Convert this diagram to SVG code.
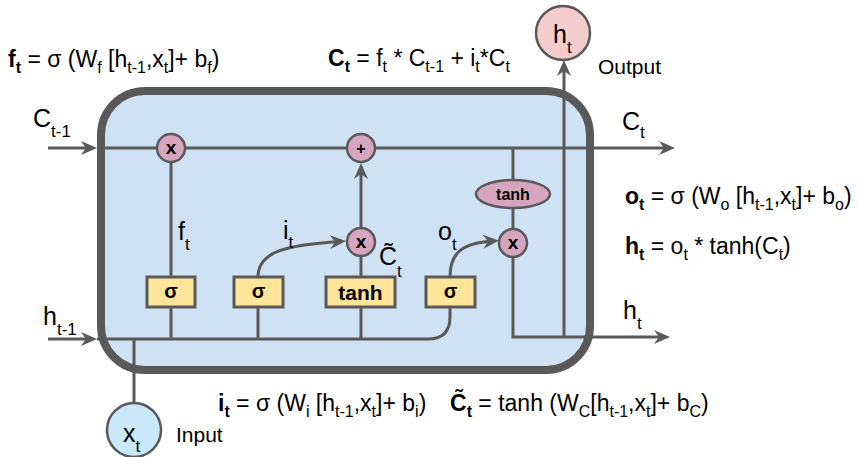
<svg xmlns="http://www.w3.org/2000/svg" width="858" height="457" viewBox="0 0 858 457">
<style>
text{font-family:"Liberation Sans",Arial,sans-serif;fill:#000}
.eq{font-size:23px}
.lb{font-size:25px}
.b{font-weight:bold}
.g{font-weight:bold;text-anchor:middle}
.ln{fill:none;stroke:#595959;stroke-width:3}
.op{fill:#d5a6bd;stroke:#595959;stroke-width:2.5}
.gate{fill:#ffe599;stroke:#595959;stroke-width:3}
</style>
<defs>
<marker id="arr" viewBox="-12 -9 20 18" refX="0" refY="0" markerWidth="20" markerHeight="18" orient="auto" markerUnits="userSpaceOnUse">
<path d="M6,0 L-10,-7 L-5,0 L-10,7 Z" fill="#595959"/>
</marker>
</defs>
<g id="cell">
<rect x="101" y="91" width="489" height="279" rx="44" ry="44" fill="#cfe2f3" stroke="#595959" stroke-width="8"/>
</g>
<g id="connectors">
<path class="ln" d="M48,148 H91" marker-end="url(#arr)"/>
<path class="ln" d="M97,148 H669" marker-end="url(#arr)"/>
<path class="ln" d="M48,339 H91" marker-end="url(#arr)"/>
<path class="ln" d="M97,339 H428 Q450,339 450,317 V307"/>
<path class="ln" d="M134,339 V403"/>
<path class="ln" d="M171,162 V277"/>
<path class="ln" d="M171,307 V339"/>
<path class="ln" d="M258,307 V339"/>
<path class="ln" d="M361,307 V339"/>
<path class="ln" d="M361,277 V256"/>
<path class="ln" d="M361,228 V169" marker-end="url(#arr)"/>
<path class="ln" d="M258,277 C258,252 285,245 340,241.5" marker-end="url(#arr)"/>
<path class="ln" d="M450,277 C450,252 463,243 493,241" marker-end="url(#arr)"/>
<path class="ln" d="M513,148 V180"/>
<path class="ln" d="M513,208 V229"/>
<path class="ln" d="M513,257 V337 H664" marker-end="url(#arr)"/>
<path class="ln" d="M564,337 V66" marker-end="url(#arr)"/>
</g>
<g id="forget-mul"><circle class="op" cx="171" cy="148" r="14"/><text class="g" x="171" y="154" font-size="19">x</text></g>
<g id="add"><circle class="op" cx="361" cy="148" r="14"/><text class="g" x="361" y="154" font-size="16">+</text></g>
<g id="input-mul"><circle class="op" cx="361" cy="242" r="14"/><text class="g" x="361" y="248" font-size="19">x</text></g>
<g id="output-mul"><circle class="op" cx="513" cy="243" r="14"/><text class="g" x="513" y="249" font-size="19">x</text></g>
<g id="tanh-cell"><ellipse class="op" cx="513" cy="194" rx="37" ry="14"/><text class="g" x="513" y="200" font-size="16">tanh</text></g>
<g id="forget-gate"><rect class="gate" x="147" y="277" width="48" height="30"/><text class="g" x="171" y="298" font-size="20">σ</text></g>
<g id="input-gate"><rect class="gate" x="234" y="277" width="49" height="30"/><text class="g" x="258.5" y="298" font-size="20">σ</text></g>
<g id="candidate-gate"><rect class="gate" x="326" y="277" width="69" height="30"/><text class="g" x="360.5" y="300" font-size="21">tanh</text></g>
<g id="output-gate"><rect class="gate" x="426" y="277" width="49" height="30"/><text class="g" x="450.5" y="298" font-size="20">σ</text></g>
<g id="output-node"><circle cx="563" cy="33" r="27" fill="#f4cccc" stroke="#595959" stroke-width="2.5"/><text class="lb" x="553" y="43">h<tspan font-size="17" dy="10">t</tspan></text></g>
<g id="input-node"><circle cx="134" cy="430" r="27" fill="#c9e8f8" stroke="#595959" stroke-width="2.5"/><text class="lb" x="123" y="442">x<tspan font-size="17" dy="10">t</tspan></text></g>
<g id="labels">
<text class="lb" x="33" y="127">C<tspan font-size="17" dy="10">t-1</tspan></text>
<text class="lb" x="43" y="325">h<tspan font-size="17" dy="10">t-1</tspan></text>
<text class="lb" x="622" y="130">C<tspan font-size="17" dy="8">t</tspan></text>
<text class="lb" x="623" y="319">h<tspan font-size="17" dy="10">t</tspan></text>
<text class="lb" x="178" y="240">f<tspan font-size="17" dy="10">t</tspan></text>
<text class="lb" x="283" y="239">i<tspan font-size="17" dy="9">t</tspan></text>
<text class="lb" x="438" y="240">o<tspan font-size="17" dy="10">t</tspan></text>
<text class="lb" x="379" y="265">C&#771;<tspan font-size="17" dy="12">t</tspan></text>
<text x="598" y="74" font-size="21">Output</text>
<text x="176" y="442" font-size="21">Input</text>
</g>
<g id="equations">
<text class="eq" x="8" y="67"><tspan class="b">f</tspan><tspan class="b" font-size="16" dy="6">t</tspan><tspan dy="-6"> = σ (W</tspan><tspan font-size="16" dy="6">f</tspan><tspan dy="-6"> [h</tspan><tspan font-size="16" dy="6">t-1</tspan><tspan dy="-6">,x</tspan><tspan font-size="16" dy="6">t</tspan><tspan dy="-6">]+ b</tspan><tspan font-size="16" dy="6">f</tspan><tspan dy="-6">)</tspan></text>
<text class="eq" x="328" y="66"><tspan class="b">C</tspan><tspan class="b" font-size="16" dy="6">t</tspan><tspan dy="-6"> = f</tspan><tspan font-size="16" dy="6">t</tspan><tspan dy="-6"> * C</tspan><tspan font-size="16" dy="6">t-1</tspan><tspan dy="-6"> + i</tspan><tspan font-size="16" dy="6">t</tspan><tspan dy="-6">*C</tspan><tspan font-size="16" dy="6">t</tspan></text>
<text class="eq" x="625" y="204"><tspan class="b">o</tspan><tspan class="b" font-size="16" dy="6">t</tspan><tspan dy="-6"> = σ (W</tspan><tspan font-size="16" dy="6">o</tspan><tspan dy="-6"> [h</tspan><tspan font-size="16" dy="6">t-1</tspan><tspan dy="-6">,x</tspan><tspan font-size="16" dy="6">t</tspan><tspan dy="-6">]+ b</tspan><tspan font-size="16" dy="6">o</tspan><tspan dy="-6">)</tspan></text>
<text class="eq" x="625" y="254"><tspan class="b">h</tspan><tspan class="b" font-size="16" dy="6">t</tspan><tspan dy="-6"> = o</tspan><tspan font-size="16" dy="6">t</tspan><tspan dy="-6"> * tanh(C</tspan><tspan font-size="16" dy="6">t</tspan><tspan dy="-6">)</tspan></text>
<text class="eq" x="218" y="411"><tspan class="b">i</tspan><tspan class="b" font-size="16" dy="6">t</tspan><tspan dy="-6"> = σ (W</tspan><tspan font-size="16" dy="6">i</tspan><tspan dy="-6"> [h</tspan><tspan font-size="16" dy="6">t-1</tspan><tspan dy="-6">,x</tspan><tspan font-size="16" dy="6">t</tspan><tspan dy="-6">]+ b</tspan><tspan font-size="16" dy="6">i</tspan><tspan dy="-6">)</tspan></text>
<text class="eq" x="450" y="411"><tspan class="b">C&#771;</tspan><tspan class="b" font-size="16" dy="6">t</tspan><tspan dy="-6"> = tanh (W</tspan><tspan font-size="16" dy="6">C</tspan><tspan dy="-6">[h</tspan><tspan font-size="16" dy="6">t-1</tspan><tspan dy="-6">,x</tspan><tspan font-size="16" dy="6">t</tspan><tspan dy="-6">]+ b</tspan><tspan font-size="16" dy="6">C</tspan><tspan dy="-6">)</tspan></text>
</g>
</svg>
